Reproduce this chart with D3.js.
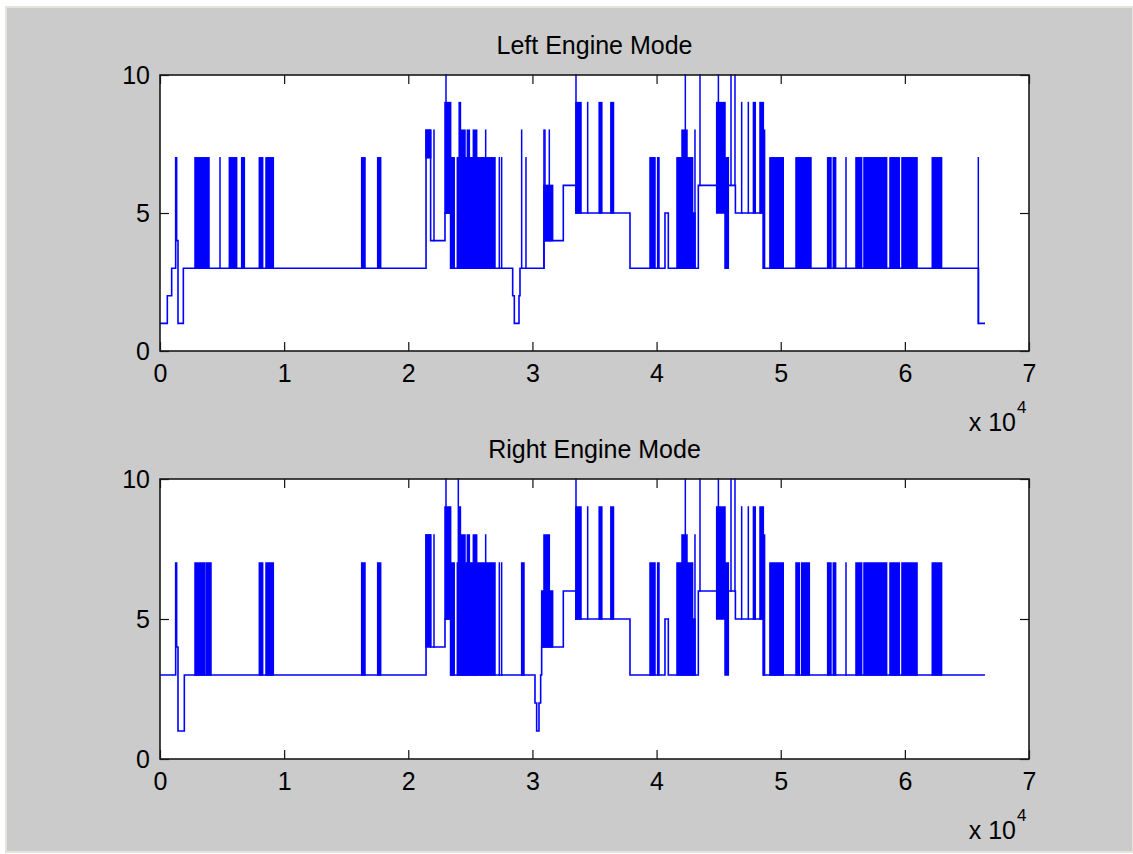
<!DOCTYPE html>
<html>
<head>
<meta charset="utf-8">
<script src="https://cdn.jsdelivr.net/npm/d3@7"></script>
<style>
  body { margin: 0; background: #ffffff; }
  text { font-family: "Liberation Sans", Arial, sans-serif; fill: #000; }
</style>
</head>
<body>
<script>
// x ticks are in units of 1e4 (shown as "x 10^4")
const xTicks = [0, 10000, 20000, 30000, 40000, 50000, 60000, 70000];
const yTicks = [0, 5, 10];
const titles = ["Left Engine Mode", "Right Engine Mode"];

// base step levels: [sample, mode] (mode holds until next point)
const leftSteps = [
  [0, 1], [590, 2], [940, 3], [1262, 7], [1340, 4], [1450, 1], [1880, 3],
  [21430, 8], [21800, 4], [22957, 5], [23413, 3],
  [28408, 2], [28542, 1], [28918, 2], [28998, 3],
  [30930, 4], [32487, 6], [33509, 5], [37859, 3],
  [40678, 5], [40946, 3], [43363, 6], [46350, 5], [48600, 3],
  [65930, 1], [66454, 1]
];

// rapid switching blocks: [from, to, low mode, high mode]
const leftBursts = [
  [2819, 3947, 3, 7], [4833, 4833, 3, 7], [5585, 6175, 3, 7], [6578, 6793, 3, 7],
  [8000, 8270, 3, 7], [8538, 9128, 3, 7], [16245, 16513, 3, 7], [17534, 17776, 3, 7],
  [21430, 21800, 7, 8], [22070, 22070, 4, 8],
  [22957, 23413, 5, 9], [23038, 23038, 5, 10], [23413, 23700, 3, 7], [23950, 26984, 3, 7],
  [24100, 24200, 3, 9], [24300, 24568, 3, 8], [24757, 24918, 3, 8], [25240, 25509, 3, 8], [26234, 26234, 3, 8],
  [27333, 27333, 3, 7], [27521, 27521, 3, 7], [29132, 29132, 3, 8], [29480, 29480, 3, 7],
  [30930, 31628, 4, 6], [30930, 30930, 3, 8], [31010, 31010, 4, 8], [31360, 31360, 4, 8],
  [33509, 33912, 5, 9], [33509, 33509, 5, 10], [34450, 34450, 5, 9], [35376, 35590, 5, 9], [36316, 36530, 5, 9],
  [39470, 39873, 3, 7], [40087, 40195, 3, 7],
  [41644, 42900, 3, 7], [42050, 42450, 5, 8], [42316, 42316, 5, 10], [42900, 43094, 3, 5], [43094, 43094, 3, 8],
  [43497, 43497, 6, 10],
  [44841, 45512, 5, 9], [44980, 44980, 9, 10], [45512, 45780, 3, 7], [45995, 45995, 6, 10], [46317, 46317, 6, 10],
  [46854, 46854, 5, 9], [47391, 47391, 5, 9], [47800, 47950, 5, 9], [48330, 48600, 5, 9], [48600, 48700, 3, 8],
  [49130, 50204, 3, 7], [51230, 52437, 3, 7], [53780, 54048, 3, 7], [54236, 54424, 3, 7], [55258, 55258, 3, 7],
  [56062, 56519, 3, 7], [56706, 58532, 3, 7], [58800, 59552, 3, 7], [59767, 60982, 3, 7], [62207, 62959, 3, 7],
  [65917, 65917, 1, 7]
];

const rightSteps = [
  [0, 3], [1262, 7], [1340, 4], [1450, 1], [1960, 3],
  [21430, 8], [21800, 4], [22957, 5], [23413, 3],
  [30206, 2], [30340, 1], [30528, 2], [30662, 3],
  [30744, 4], [32487, 6], [33509, 5], [37859, 3],
  [40678, 5], [40946, 3], [43363, 6], [46350, 5], [48600, 3],
  [66454, 3]
];

const rightBursts = [
  [2819, 3625, 3, 7], [3759, 4108, 3, 7],
  [8000, 8270, 3, 7], [8538, 9128, 3, 7], [16245, 16513, 3, 7], [17534, 17776, 3, 7],
  [21430, 21800, 4, 8], [22070, 22070, 4, 8],
  [22957, 23413, 5, 9], [23038, 23038, 5, 10], [23413, 23700, 3, 7], [23950, 26984, 3, 7],
  [24030, 24030, 3, 10], [24100, 24200, 3, 9], [24300, 24568, 3, 8], [24757, 24918, 3, 8], [25240, 25509, 3, 8], [26234, 26234, 3, 8],
  [27333, 27333, 3, 7], [27521, 27521, 3, 7], [29132, 29320, 3, 7],
  [30744, 31628, 4, 6], [30930, 31360, 5, 8],
  [33509, 33912, 5, 9], [33509, 33509, 5, 10], [34450, 34450, 5, 9], [35376, 35590, 5, 9], [36316, 36530, 5, 9],
  [39470, 39873, 3, 7], [40087, 40195, 3, 7],
  [41644, 42900, 3, 7], [42050, 42450, 5, 8], [42316, 42316, 5, 10], [42900, 43094, 3, 5], [43094, 43094, 3, 8],
  [43497, 43497, 6, 10],
  [44841, 45512, 5, 9], [44980, 44980, 9, 10], [45512, 45780, 3, 7], [45995, 45995, 6, 10], [46317, 46317, 6, 10],
  [46854, 46854, 5, 9], [47391, 47391, 5, 9], [47800, 47950, 5, 9], [48330, 48600, 5, 9], [48600, 48700, 3, 8],
  [49130, 50204, 3, 7], [51230, 51499, 3, 7], [51687, 52304, 3, 7], [53780, 54048, 3, 7], [54236, 54424, 3, 7], [55258, 55258, 3, 7],
  [56062, 56519, 3, 7], [56706, 58532, 3, 7], [58800, 59552, 3, 7], [59767, 60982, 3, 7], [62207, 62959, 3, 7]
];

const W = 1133, H = 854;
const blue = "#0000ff";

const svg = d3.select("body").append("svg")
  .attr("width", W)
  .attr("height", H);

// figure window
svg.append("rect")
  .attr("x", 6).attr("y", 7)
  .attr("width", W - 6).attr("height", 845)
  .attr("fill", "#cbcbcb")
  .attr("stroke", "#e4e4dc")
  .attr("stroke-width", 2);

function drawPanel(top, bottom, title, steps, bursts) {
  const left = 160, right = 1029;
  const x = d3.scaleLinear().domain([0, 70000]).range([left, right]);
  const y = d3.scaleLinear().domain([0, 10]).range([bottom, top]);
  const g = svg.append("g");

  g.append("rect")
    .attr("x", left).attr("y", top)
    .attr("width", right - left).attr("height", bottom - top)
    .attr("fill", "#fff");

  const plot = g.append("g");

  plot.selectAll("rect.burst")
    .data(bursts)
    .join("rect")
    .attr("class", "burst")
    .attr("x", d => x(d[0]) - 0.75)
    .attr("width", d => Math.max(x(d[1]) - x(d[0]), 0) + 1.5)
    .attr("y", d => y(d[3]) - 0.75)
    .attr("height", d => y(d[2]) - y(d[3]) + 1.5)
    .attr("fill", blue);

  const line = d3.line()
    .x(d => x(d[0]))
    .y(d => y(d[1]))
    .curve(d3.curveStepAfter);

  plot.append("path")
    .attr("d", line(steps))
    .attr("fill", "none")
    .attr("stroke", blue)
    .attr("stroke-width", 1.6);

  const tickLen = 9;
  const fmt = d => d / 10000;

  const xb = g.append("g")
    .attr("transform", "translate(0," + bottom + ")")
    .call(d3.axisBottom(x).tickValues(xTicks).tickFormat(fmt).tickSizeInner(-tickLen).tickSizeOuter(0).tickPadding(13));
  const xt = g.append("g")
    .attr("transform", "translate(0," + top + ")")
    .call(d3.axisTop(x).tickValues(xTicks).tickFormat("").tickSizeInner(-tickLen).tickSizeOuter(0));
  const yl = g.append("g")
    .attr("transform", "translate(" + left + ",0)")
    .call(d3.axisLeft(y).tickValues(yTicks).tickSizeInner(-tickLen).tickSizeOuter(0).tickPadding(10));
  const yr = g.append("g")
    .attr("transform", "translate(" + right + ",0)")
    .call(d3.axisRight(y).tickValues(yTicks).tickFormat("").tickSizeInner(-tickLen).tickSizeOuter(0));

  [xb, xt, yl, yr].forEach(a => {
    a.select(".domain").remove();
    a.selectAll("line").attr("stroke", "#111").attr("stroke-width", 1.2);
    a.selectAll("text")
      .style("font-family", "'Liberation Sans', Arial, sans-serif")
      .style("font-size", "25px")
      .attr("fill", "#000");
  });

  g.append("rect")
    .attr("x", left).attr("y", top)
    .attr("width", right - left).attr("height", bottom - top)
    .attr("fill", "none")
    .attr("stroke", "#1a1a1a")
    .attr("stroke-width", 1.6);

  g.append("text")
    .attr("x", (left + right) / 2)
    .attr("y", top - 21)
    .attr("text-anchor", "middle")
    .style("font-size", "25px")
    .text(title);

  // exponent label
  const ex = g.append("text")
    .attr("x", 1016)
    .attr("y", bottom + 80)
    .attr("text-anchor", "end")
    .style("font-size", "25px")
    .text("x 10");
  g.append("text")
    .attr("x", 1017)
    .attr("y", bottom + 62)
    .style("font-size", "17px")
    .text("4");
}

drawPanel(75, 351, titles[0], leftSteps, leftBursts);
drawPanel(479, 759, titles[1], rightSteps, rightBursts);
</script>
</body>
</html>
